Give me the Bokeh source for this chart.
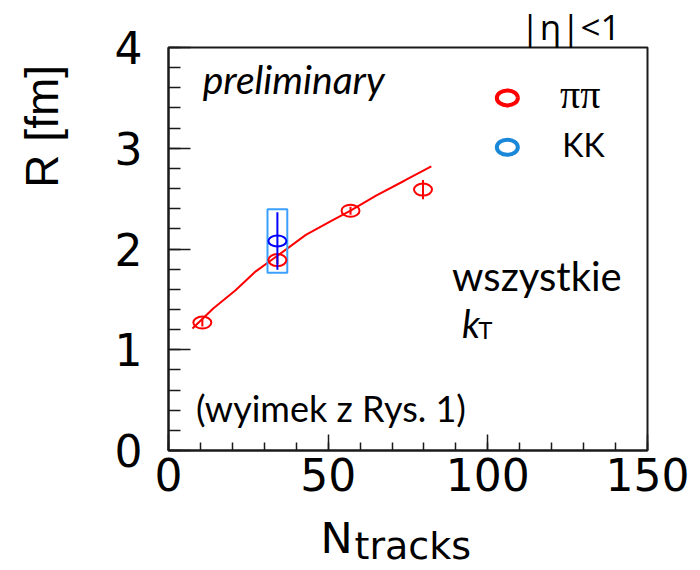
import numpy as np
from bokeh.plotting import figure
from bokeh.layouts import column, row
from bokeh.models import Range1d, SingleIntervalTicker, Label
from bokeh.embed import file_html
from bokeh.resources import INLINE

# ---- data ----
pipi_ntracks = [10.6, 34.1, 57.0, 79.7]
pipi_r = [1.27, 1.89, 2.38, 2.59]
pipi_err = [0.04, 0.04, 0.04, 0.095]

kk_ntracks = [34.1]
kk_r = [2.08]
kk_err = [0.285]
kk_sys_n = [3.1]
kk_sys_r = [0.315]

fit_ntracks = [7.5, 14, 21, 27, 34, 43, 51, 57, 65, 74, 82.3]
fit_r = [1.21, 1.41, 1.59, 1.77, 1.93, 2.14, 2.28, 2.38, 2.53, 2.68, 2.82]

x_range = (0, 150)
y_range = (0, 4)

RED = "#ff0000"
BLUE = "#0000ff"
BOX = "#3aa0ff"
LEG_BLUE = "#1a88d8"
AX = "#1a1a1a"

LEFT_W = 90
MAIN_W = 610
TOP_H = 509
BOT_H = 570 - TOP_H
PX_PER_R = 403 / 4.0   # frame height / y span, used to nudge text baselines

# baseline correction (fraction of the font size) per font
BASE_K = {"Lato": 0.41, "DejaVu Sans": 0.35, "Liberation Serif": 0.34, "Liberation Sans": 0.35}


def blank(width, height):
    f = figure(width=width, height=height, output_backend="svg", toolbar_location=None,
               x_range=Range1d(0, width), y_range=Range1d(0, height),
               x_axis_location=None, y_axis_location=None,
               min_border=0, min_border_left=0, min_border_right=0,
               min_border_top=0, min_border_bottom=0)
    f.title.visible = False
    f.xgrid.visible = False
    f.ygrid.visible = False
    f.outline_line_color = None
    f.background_fill_color = "white"
    f.border_fill_color = "white"
    return f


p = figure(width=MAIN_W, height=TOP_H, output_backend="svg", toolbar_location=None,
           x_range=Range1d(*x_range), y_range=Range1d(*y_range),
           min_border_left=168 - LEFT_W, min_border_right=53, min_border_top=47,
           min_border_bottom=TOP_H - 450)
p.background_fill_color = "white"
p.border_fill_color = "white"
p.outline_line_color = AX
p.outline_line_width = 2
p.xgrid.visible = False
p.ygrid.visible = False

# |eta|<1 as the plot title, above the frame
p.title.text = "|η|<1"
p.title.align = "left"
p.title.offset = 352
p.title.standoff = -4
p.title.vertical_align = "bottom"
p.title.text_font = "Open Sans"
p.title.text_font_size = "35px"
p.title.text_font_style = "normal"
p.title.text_color = "black"

p.xaxis.ticker = SingleIntervalTicker(interval=50, num_minor_ticks=5)
p.yaxis.ticker = SingleIntervalTicker(interval=1, num_minor_ticks=5)
for ax in (p.xaxis, p.yaxis):
    ax.axis_line_color = AX
    ax.axis_line_width = 2
    ax.major_tick_line_color = AX
    ax.minor_tick_line_color = AX
    ax.major_tick_line_width = 1.5
    ax.minor_tick_line_width = 1.5
    ax.major_tick_out = 0
    ax.minor_tick_out = 0
    ax.major_label_text_font = "DejaVu Sans"
    ax.major_label_text_font_size = "44px"
    ax.major_label_text_color = "black"
p.yaxis.major_tick_in = 22
p.yaxis.minor_tick_in = 12
p.xaxis.major_tick_in = 16
p.xaxis.minor_tick_in = 8
p.yaxis.major_label_standoff = 26
p.xaxis.major_label_standoff = 7

# fit curve
p.line(fit_ntracks, fit_r, line_color=RED, line_width=2)

# KK systematic box
kx = np.array(kk_ntracks); ky = np.array(kk_r)
p.quad(left=kx - np.array(kk_sys_n), right=kx + np.array(kk_sys_n),
       bottom=ky - np.array(kk_sys_r), top=ky + np.array(kk_sys_r),
       fill_alpha=0, line_color=BOX, line_width=2)

# pipi points
px = np.array(pipi_ntracks); py = np.array(pipi_r); pe = np.array(pipi_err)
p.segment(x0=px, y0=py - pe, x1=px, y1=py + pe, line_color=RED, line_width=2)
p.ellipse(x=px, y=py, width=18, height=12, width_units="screen", height_units="screen",
          fill_alpha=0, line_color=RED, line_width=2)

# KK point
ke = np.array(kk_err)
p.segment(x0=kx, y0=ky - ke, x1=kx, y1=ky + ke, line_color=BLUE, line_width=2)
p.ellipse(x=kx, y=ky, width=18, height=11, width_units="screen", height_units="screen",
          fill_alpha=0, line_color=BLUE, line_width=2)

# legend keys
p.ellipse(x=[106.1], y=[3.50], width=21, height=15, width_units="screen", height_units="screen",
          fill_alpha=0, line_color=RED, line_width=4)
p.ellipse(x=[106.1], y=[3.01], width=21, height=15, width_units="screen", height_units="screen",
          fill_alpha=0, line_color=LEG_BLUE, line_width=4)


def lab(fig, text, x, y, size, font="Lato", style="normal", angle=0.0, scale=1.0):
    """Place text so that its baseline sits at (x, y); scale = pixels per data unit."""
    shift = BASE_K[font] * size / scale
    if angle:
        x = x - shift
    else:
        y = y + shift
    fig.add_layout(Label(x=x, y=y, text=text, text_font=font, text_font_size=f"{size}px",
                         text_font_style=style, angle=angle, text_align="left",
                         text_baseline="alphabetic", text_color="black"))


lab(p, "ππ", 122.6, 3.40, 40, font="Liberation Serif", scale=PX_PER_R)
lab(p, "KK", 123.3, 2.91, 32, scale=PX_PER_R)
lab(p, "preliminary", 10.7, 3.53, 39, style="italic", scale=PX_PER_R)
lab(p, "wszystkie", 88.8, 1.57, 40, scale=PX_PER_R)
lab(p, "k", 91.9, 1.11, 38, style="italic", scale=PX_PER_R)
lab(p, "T", 97.0, 1.10, 24, scale=PX_PER_R)
lab(p, "(wyimek z Rys. 1)", 8.6, 0.28, 36, scale=PX_PER_R)

# y-axis title in a narrow panel on the left (pixel coordinates, origin bottom-left)
left = blank(LEFT_W, TOP_H)
lab(left, "R [fm]", 57.5, TOP_H - 177, 46, font="Liberation Sans", angle=np.pi / 2)

# x-axis title N_tracks in a strip below (pixel coordinates, origin bottom-left)
bottom = blank(LEFT_W + MAIN_W, BOT_H)
lab(bottom, "N", 320, 570 - 553, 43, font="DejaVu Sans")
lab(bottom, "tracks", 354, 570 - 559, 38, font="DejaVu Sans")

layout = column(row(left, p), bottom)
open("out.html", "w").write(file_html(layout, INLINE))
